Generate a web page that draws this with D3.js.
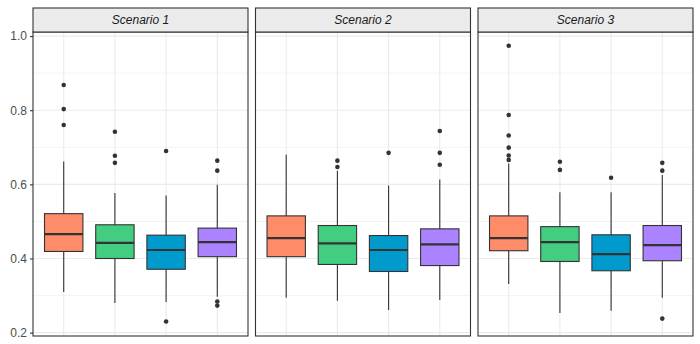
<!DOCTYPE html>
<html>
<head>
<meta charset="utf-8">
<script src="https://cdn.jsdelivr.net/npm/d3@7"></script>
<style>
  body { margin: 0; background: #fff; }
  svg { font-family: "Liberation Sans", Arial, sans-serif; }
</style>
</head>
<body>
<div id="chart"></div>
<script>
// chart data
var scenarios = ["Scenario 1", "Scenario 2", "Scenario 3"];
var groups = ["A", "B", "C", "D"];
var colors = ["#FF8C69", "#43CD80", "#009ACD", "#AB82FF"];

// [lower whisker, q1, median, q3, upper whisker] per group
var stats1 = [[0.310, 0.419, 0.466, 0.521, 0.662],
              [0.280, 0.400, 0.442, 0.491, 0.577],
              [0.283, 0.371, 0.423, 0.463, 0.570],
              [0.297, 0.405, 0.444, 0.482, 0.599]];
var stats2 = [[0.294, 0.405, 0.455, 0.515, 0.680],
              [0.286, 0.384, 0.441, 0.489, 0.637],
              [0.261, 0.365, 0.423, 0.462, 0.597],
              [0.288, 0.381, 0.438, 0.480, 0.613]];
var stats3 = [[0.331, 0.421, 0.455, 0.515, 0.656],
              [0.253, 0.392, 0.444, 0.486, 0.579],
              [0.259, 0.367, 0.412, 0.464, 0.579],
              [0.294, 0.394, 0.436, 0.489, 0.625]];

var outliers1 = [[0.868, 0.803, 0.760], [0.742, 0.677, 0.658], [0.690, 0.230], [0.664, 0.637, 0.284, 0.273]];
var outliers2 = [[], [0.664, 0.647], [0.685], [0.744, 0.685, 0.653]];
var outliers3 = [[0.974, 0.787, 0.732, 0.699, 0.678, 0.666], [0.661, 0.639], [0.618], [0.658, 0.637, 0.238]];

var yTicks = [0.2, 0.4, 0.6, 0.8, 1.0];
var yMinor = [0.3, 0.5, 0.7, 0.9];

var allStats = [stats1, stats2, stats3];
var allOutliers = [outliers1, outliers2, outliers3];

// layout
var width = 700, height = 344;
var panelLeft = 33, panelW = 215, gap = 7.5;
var stripTop = 8, stripH = 24, panelTop = stripTop + stripH, panelBottom = 336;

var svg = d3.select("#chart")
  .append("svg")
    .attr("width", width)
    .attr("height", height);

var y = d3.scaleLinear()
  .domain([0.191, 1.011])
  .range([panelBottom, panelTop]);

var x = d3.scaleBand()
  .domain(groups)
  .range([0, panelW])
  .paddingInner(0)
  .paddingOuter(0.1);

var boxW = x.bandwidth() * 0.75;

scenarios.forEach(function(name, i) {
  var g = svg.append("g")
    .attr("transform", "translate(" + (panelLeft + i * (panelW + gap)) + ",0)");

  // minor grid
  g.selectAll(".minor").data(yMinor).enter().append("line")
    .attr("x1", 0).attr("x2", panelW)
    .attr("y1", function(d) { return y(d); })
    .attr("y2", function(d) { return y(d); })
    .attr("stroke", "#EBEBEB").attr("stroke-width", 0.6);

  // major grid
  g.selectAll(".major").data(yTicks).enter().append("line")
    .attr("x1", 0).attr("x2", panelW)
    .attr("y1", function(d) { return y(d); })
    .attr("y2", function(d) { return y(d); })
    .attr("stroke", "#EBEBEB").attr("stroke-width", 1.1);

  g.selectAll(".vgrid").data(groups).enter().append("line")
    .attr("x1", function(d) { return x(d) + x.bandwidth() / 2; })
    .attr("x2", function(d) { return x(d) + x.bandwidth() / 2; })
    .attr("y1", panelTop).attr("y2", panelBottom)
    .attr("stroke", "#EBEBEB").attr("stroke-width", 1.1);

  var boxes = allStats[i].map(function(s, j) {
    return { group: groups[j], color: colors[j], s: s, out: allOutliers[i][j] };
  });

  var b = g.selectAll(".box").data(boxes).enter().append("g");

  // whiskers
  b.append("line")
    .attr("x1", function(d) { return x(d.group) + x.bandwidth() / 2; })
    .attr("x2", function(d) { return x(d.group) + x.bandwidth() / 2; })
    .attr("y1", function(d) { return y(d.s[0]); })
    .attr("y2", function(d) { return y(d.s[4]); })
    .attr("stroke", "#333333").attr("stroke-width", 1.1);

  b.append("rect")
    .attr("x", function(d) { return x(d.group) + (x.bandwidth() - boxW) / 2; })
    .attr("width", boxW)
    .attr("y", function(d) { return y(d.s[3]); })
    .attr("height", function(d) { return y(d.s[1]) - y(d.s[3]); })
    .attr("fill", function(d) { return d.color; })
    .attr("stroke", "#333333").attr("stroke-width", 1.1);

  b.append("line")
    .attr("x1", function(d) { return x(d.group) + (x.bandwidth() - boxW) / 2; })
    .attr("x2", function(d) { return x(d.group) + (x.bandwidth() + boxW) / 2; })
    .attr("y1", function(d) { return y(d.s[2]); })
    .attr("y2", function(d) { return y(d.s[2]); })
    .attr("stroke", "#333333").attr("stroke-width", 2.2);

  b.selectAll("circle").data(function(d) {
      return d.out.map(function(v) { return { group: d.group, v: v }; });
    }).enter().append("circle")
    .attr("cx", function(d) { return x(d.group) + x.bandwidth() / 2; })
    .attr("cy", function(d) { return y(d.v); })
    .attr("r", 2.3)
    .attr("fill", "#333333");

  // panel border
  g.append("rect")
    .attr("x", 0).attr("y", panelTop)
    .attr("width", panelW).attr("height", panelBottom - panelTop)
    .attr("fill", "none").attr("stroke", "#333333").attr("stroke-width", 1.1);

  // strip
  g.append("rect")
    .attr("x", 0).attr("y", stripTop)
    .attr("width", panelW).attr("height", stripH)
    .attr("fill", "#EBEBEB").attr("stroke", "#333333").attr("stroke-width", 1.1);

  g.append("text")
    .attr("x", panelW / 2).attr("y", stripTop + stripH / 2)
    .attr("dy", "0.35em")
    .attr("text-anchor", "middle")
    .style("font-size", "12px")
    .style("font-style", "italic")
    .attr("fill", "#1A1A1A")
    .text(name);
});

// y axis
var yAxis = svg.append("g")
  .attr("transform", "translate(" + panelLeft + ",0)")
  .call(d3.axisLeft(y).tickValues(yTicks).tickFormat(d3.format(".1f")).tickSize(3).tickPadding(3));

yAxis.select(".domain").remove();
yAxis.selectAll(".tick line").attr("stroke", "#333333").attr("stroke-width", 1.1);
yAxis.selectAll(".tick text")
  .style("font-size", "12px")
  .style("font-family", "Liberation Sans, Arial, sans-serif")
  .attr("fill", "#4D4D4D");
</script>
</body>
</html>
